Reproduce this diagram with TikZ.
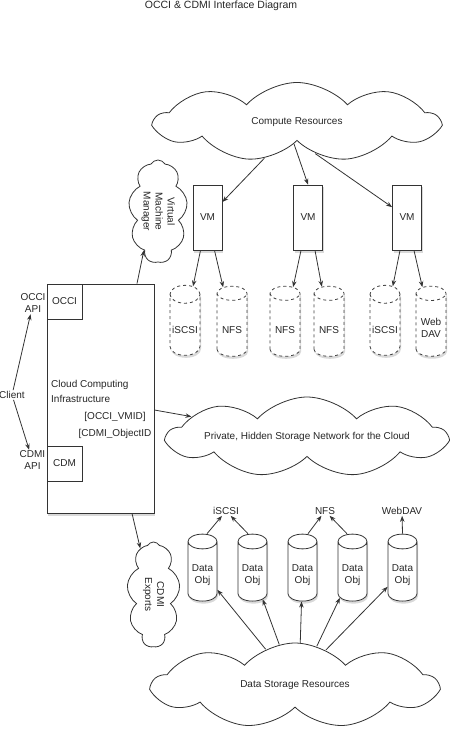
\documentclass[tikz,border=0pt]{standalone}
\usepackage{fontspec}
\setmainfont{Liberation Sans}
\usepackage{graphicx}
\usetikzlibrary{shapes.symbols,shapes.geometric,arrows.meta,shadows,calc}
\newcommand{\lowtxt}[2]{\raisebox{-#1}[\height][\depth]{\begin{tabular}{@{}c@{}}#2\end{tabular}}}
\begin{document}
\begin{tikzpicture}[x=1pt,y=-1pt,
  every node/.style={font=\fontsize{10}{12}\selectfont, text=black!85},
  ln/.style={draw=black!80, line width=0.8pt},
  arr/.style={ln, -{Stealth[length=6pt,width=4.5pt]}},
  cloudnode/.style={cloud, draw=black!80, line width=0.8pt, cloud ignores aspect, inner sep=0pt, fill=white},
  shad/.style={drop shadow={opacity=0.3,shadow xshift=1pt,shadow yshift=-2.5pt}},
  box/.style={ln, fill=white, inner sep=0pt, shad},
  subbox/.style={ln, fill=white, inner sep=0pt, minimum width=35pt, minimum height=35pt},
  vmbox/.style={box, minimum width=29pt, minimum height=65pt},
  dcyl/.style={cylinder, shape border rotate=90, aspect=0.7, draw=black!75, line width=0.8pt, dashed, fill=white, shad,
    minimum width=30pt, minimum height=70pt, inner sep=0pt, align=center},
  scyl/.style={cylinder, shape border rotate=90, aspect=0.7, draw=black!80, line width=0.8pt, fill=white, shad,
    minimum width=29pt, minimum height=67pt, inner sep=0pt, align=center},
  lbl/.style={inner sep=1pt, align=center}
]
\useasboundingbox (0,0) rectangle (449,751);

% title
\node[anchor=base, font=\fontsize{10.5}{12}\selectfont] (title) at (221,9) {OCCI \& CDMI Interface Diagram};

% clouds
\node[cloudnode, cloud puffs=9, cloud puff arc=95, minimum width=283pt, minimum height=79pt] (cr) at (297,122) {Compute Resources};
\node[cloudnode, cloud puffs=9, cloud puff arc=120, minimum width=50pt, minimum height=103pt] (vmm) at (158,211.5)
  {\rotatebox{-90}{\begin{tabular}{@{}c@{}}Virtual\\Machine\\Manager\end{tabular}}};
\node[cloudnode, cloud puffs=9, cloud puff arc=95, minimum width=278pt, minimum height=80pt] (priv) at (307,437) {Private, Hidden Storage Network for the Cloud};
\node[cloudnode, cloud puffs=9, cloud puff arc=120, minimum width=53pt, minimum height=105pt] (cdmi) at (153.5,594.5)
  {\rotatebox{-90}{\begin{tabular}{@{}c@{}}CDMI\\Exports\end{tabular}}};
\node[cloudnode, cloud puffs=9, cloud puff arc=95, minimum width=284pt, minimum height=85pt] (dsr) at (295,685.5) {Data Storage Resources};

% VMs
\node[vmbox] (vm1) at (207.5,217.5) {VM};
\node[vmbox] (vm2) at (308,217.5) {VM};
\node[vmbox] (vm3) at (407,217.5) {VM};

% dashed cylinders
\node[dcyl] (c1) at (185,325) {\lowtxt{6pt}{iSCSI}};
\node[dcyl] (c2) at (232,325) {\lowtxt{6pt}{NFS}};
\node[dcyl] (c3) at (285,325) {\lowtxt{6pt}{NFS}};
\node[dcyl] (c4) at (329,325) {\lowtxt{6pt}{NFS}};
\node[dcyl] (c5) at (385,325) {\lowtxt{6pt}{iSCSI}};
\node[dcyl] (c6) at (431,325) {\lowtxt{4pt}{Web\\DAV}};

% main box
\node[box, minimum width=107pt, minimum height=229pt] (main) at (100.5,398.5) {};
\node[subbox] (occi) at (64.5,301.5) {OCCI};
\node[subbox] (cdm) at (64.5,463.5) {CDM};
\node[anchor=base west, inner sep=0pt] (cc1) at (51,387) {Cloud Computing};
\node[anchor=base west, inner sep=0pt] (cc2) at (51,402) {Infrastructure};
\node[anchor=base, inner sep=0pt] (cc3) at (115,419) {[OCCI\_VMID]};
\node[anchor=base, inner sep=0pt] (cc4) at (115,436) {[CDMI\_ObjectID};

% left labels
\node[lbl] (occiapi) at (33,303.5) {OCCI\\API};
\node[lbl] (cdmiapi) at (32.5,460.5) {CDMI\\API};
\node[lbl] (client) at (12,395) {Client};

% data objects
\node[scyl] (d1) at (202.5,571.5) {\lowtxt{4pt}{Data\\Obj}};
\node[scyl] (d2) at (252.5,571.5) {\lowtxt{4pt}{Data\\Obj}};
\node[scyl] (d3) at (302.5,571.5) {\lowtxt{4pt}{Data\\Obj}};
\node[scyl] (d4) at (352.5,571.5) {\lowtxt{4pt}{Data\\Obj}};
\node[scyl] (d5) at (402.5,571.5) {\lowtxt{4pt}{Data\\Obj}};

\node[lbl] (liscsi) at (226,511) {iSCSI};
\node[lbl] (lnfs) at (325,511) {NFS};
\node[lbl] (lwebdav) at (402,511) {WebDAV};

% arrows: compute cloud -> VMs
\draw[arr] (cr.228) -- (vm1);
\draw[arr] (cr.262) -- (vm2.north);
\draw[arr] (cr.300) -- (vm3);

% VMs -> cylinders
\draw[arr] ([xshift=-7pt]vm1.south) -- (c1);
\draw[arr] ([xshift=7pt]vm1.south) -- (c2);
\draw[arr] ([xshift=-7pt]vm2.south) -- (c3);
\draw[arr] ([xshift=7pt]vm2.south) -- (c4);
\draw[arr] ([xshift=-7pt]vm3.south) -- (c5);
\draw[arr] ([xshift=7pt]vm3.south) -- (c6);

% main box arrows
\draw[arr] ([xshift=36.5pt]main.north) -- (vmm.250);
\draw[arr] ([yshift=-11.5pt]main.east) -- (priv.170);
\draw[arr] ([xshift=31.5pt]main.south) -- (cdmi.106);

% client
\draw[arr] (client) -- (occiapi);
\draw[arr] (client) -- (cdmiapi);

% data storage -> data objects
\draw[arr] (dsr.129) -- (d1);
\draw[arr] (dsr.111) -- (d2);
\draw[arr] (dsr.83) -- (d3);
\draw[arr] (dsr.61) -- (d4);
\draw[arr] (dsr.49) -- (d5);

% data objects -> protocol labels
\draw[arr] ([xshift=4.5pt]d1.north) -- (liscsi);
\draw[arr] ([xshift=-4.5pt]d2.north) -- (liscsi);
\draw[arr] ([xshift=5.5pt]d3.north) -- (lnfs);
\draw[arr] ([xshift=-5.5pt]d4.north) -- (lnfs);
\draw[arr] (d5.north) -- (lwebdav);
\end{tikzpicture}
\end{document}
